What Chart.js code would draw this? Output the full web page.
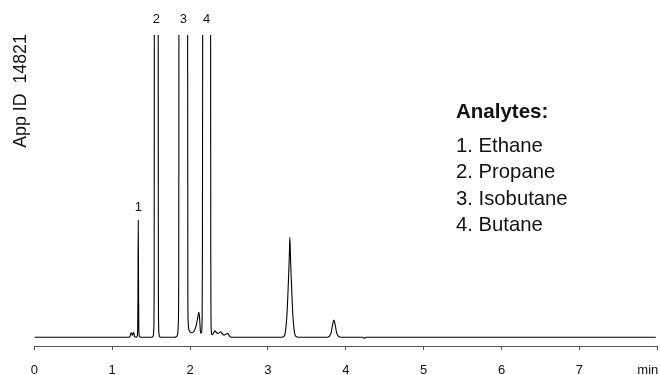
<!DOCTYPE html>
<html>
<head>
<meta charset="utf-8">
<script src="https://cdn.jsdelivr.net/npm/chart.js@4.4.0/dist/chart.umd.min.js"></script>
<style>
  html, body { margin: 0; padding: 0; background: #ffffff; }
  #wrap { position: relative; width: 660px; height: 375px; }
</style>
</head>
<body>
<div id="wrap"><canvas id="c" width="660" height="375"></canvas></div>
<script>
// ---- Data (time in min, detector signal in arbitrary units) ----
const times = [
  0, 1.200, 1.225, 1.238, 1.248, 1.257, 1.266, 1.275, 1.285, 1.297,
  1.312, 1.322, 1.328, 1.331, 1.335, 1.339, 1.342, 1.348, 1.360, 1.400,
  1.500, 1.518, 1.528, 1.535, 1.539, 1.541, 1.566, 1.591, 1.593, 1.597, 1.604, 1.615, 1.650,
  1.800, 1.825, 1.840, 1.850, 1.855, 1.857, 1.913, 1.969, 1.972, 1.976, 1.982, 1.995,
  2.021, 2.050, 2.076, 2.095, 2.114, 2.124, 2.136, 2.148, 2.155, 2.159, 2.162,
  2.213, 2.264, 2.266, 2.269, 2.274, 2.282, 2.300, 2.320, 2.340, 2.362, 2.393,
  2.415, 2.439, 2.460, 2.483, 2.500, 2.515, 2.550,
  3.150, 3.190, 3.205, 3.218, 3.230, 3.243, 3.256, 3.269, 3.276, 3.282,
  3.288, 3.295, 3.308, 3.321, 3.334, 3.346, 3.359, 3.375, 3.420,
  3.760, 3.775, 3.788, 3.800, 3.813, 3.822, 3.834, 3.847, 3.860, 3.872,
  3.881, 3.894, 3.906, 3.920, 3.950,
  4.220, 4.240, 4.260, 7.980
];
const signal = [
  0, 0, 0.3, 3.5, 4.5, 2, 3.5, 5, 1.5, 0.3,
  0.2, 1.5, 10, 45, 117, 45, 10, 1.5, 0.3, 0,
  0, 0.3, 2, 10, 60, 302, 2000, 302, 60, 10, 2, 0.3, 0,
  0, 0.5, 3, 15, 80, 302, 2000, 302, 40, 16, 9, 6,
  4.5, 6, 11, 18, 25, 17, 4, 5, 20, 90, 302,
  2000, 302, 90, 20, 5, 2.5, 4, 6.5, 4.5, 4, 5.5,
  3.5, 2.3, 3, 4, 2, 0.6, 0,
  0, 0.3, 1, 3, 9, 21, 42, 68, 85, 100,
  85, 68, 42, 21, 9, 3, 1, 0.3, 0,
  0, 0.3, 1, 2.5, 5, 9, 14, 17.3, 14, 9,
  5, 2.5, 1, 0.3, 0,
  0, -0.8, 0, 0
];
const xTickLabels = ['0', '1', '2', '3', '4', '5', '6', '7', ''];
const xUnit = 'min';
const peakNames = ['1', '2', '3', '4'];
const peakTimes = [1.335, 1.566, 1.913, 2.213];
const legendTitle = 'Analytes:';
const analytes = ['Ethane', 'Propane', 'Isobutane', 'Butane'];
const sideNote = 'App ID  14821';

// ---- Chart ----
const FONT = "'Liberation Sans', Arial, Helvetica, sans-serif";
Chart.defaults.font.family = FONT;
Chart.defaults.color = '#111111';

const points = times.map((t, i) => ({ x: t, y: signal[i] }));

const textPlugin = {
  id: 'chromText',
  afterDraw(chart) {
    const ctx = chart.ctx;
    const xs = chart.scales.x, ys = chart.scales.y;
    const area = chart.chartArea;
    ctx.save();
    ctx.fillStyle = '#111111';

    // peak numbers
    ctx.font = '13px ' + FONT;
    ctx.textAlign = 'center';
    ctx.textBaseline = 'middle';
    peakNames.forEach((name, i) => {
      let apex = 0;
      times.forEach((t, j) => { if (Math.abs(t - peakTimes[i]) < 0.01) apex = Math.max(apex, signal[j]); });
      const px = xs.getPixelForValue(peakTimes[i]);
      const py = ys.getPixelForValue(apex);
      const y = py < area.top ? area.top - 15.5 : py - 12.5;
      ctx.fillText(name, px, y);
    });

    // axis unit, right-aligned at the last tick
    ctx.textAlign = 'right';
    ctx.fillText(xUnit, xs.getPixelForValue(8) + 1, 370.7);

    // legend block
    ctx.textAlign = 'left';
    ctx.textBaseline = 'alphabetic';
    ctx.font = 'bold 20.5px ' + FONT;
    ctx.fillText(legendTitle, 456, 118.3);
    ctx.font = '20.3px ' + FONT;
    analytes.forEach((a, i) => {
      ctx.fillText((i + 1) + '. ' + a, 456, 151.7 + i * 26.5);
    });

    // rotated side note
    ctx.translate(25.5, 91);
    ctx.rotate(-Math.PI / 2);
    ctx.textAlign = 'center';
    ctx.font = '17.8px ' + FONT;
    ctx.fillText(sideNote, 0, 0);
    ctx.restore();
  }
};

new Chart(document.getElementById('c'), {
  type: 'line',
  data: {
    datasets: [{
      data: points,
      borderColor: '#000000',
      borderWidth: 1.1,
      pointRadius: 0,
      fill: false,
      cubicInterpolationMode: 'monotone'
    }]
  },
  options: {
    responsive: false,
    animation: false,
    devicePixelRatio: 1,
    layout: { padding: { left: 34.3, right: 2.7, top: 35, bottom: 0 } },
    plugins: { legend: { display: false }, tooltip: { enabled: false } },
    scales: {
      x: {
        type: 'linear',
        min: 0,
        max: 8,
        afterFit(scale) { scale.height = 29; scale.paddingLeft = 0; scale.paddingRight = 0; },
        ticks: {
          stepSize: 1,
          autoSkip: false,
          maxRotation: 0,
          padding: 13,
          color: '#111111',
          font: { size: 13 },
          callback: (v) => xTickLabels[Math.round(v)] ?? ''
        },
        grid: { drawOnChartArea: false, drawTicks: true, tickLength: 4, color: '#555555', lineWidth: 1 },
        border: { display: true, color: '#555555', width: 1 }
      },
      y: {
        display: false,
        min: -8.7,
        max: 302.3
      }
    }
  },
  plugins: [textPlugin]
});
</script>
</body>
</html>
